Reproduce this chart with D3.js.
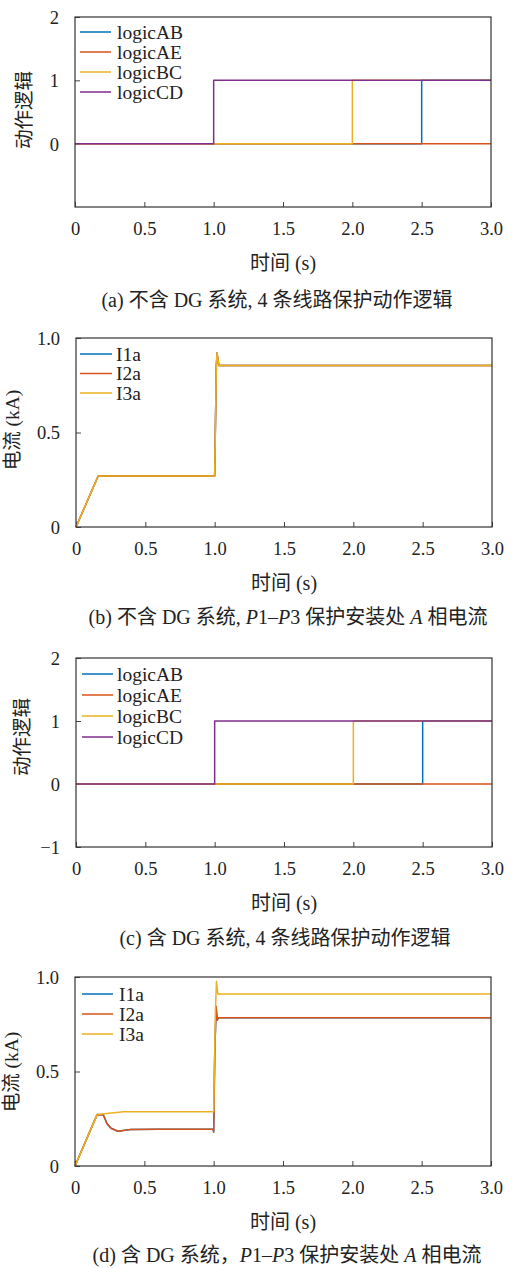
<!DOCTYPE html>
<html>
<head>
<meta charset="utf-8">
<script src="https://cdn.jsdelivr.net/npm/d3@7"></script>
<style>
  body { margin: 0; background: #fff; }
  svg text { font-family: "Liberation Serif", "Noto Sans CJK SC", serif; fill: #222; }
</style>
</head>
<body>
<div id="chart"></div>
<script>
// ---- data ----
var xTicks = [0, 0.5, 1.0, 1.5, 2.0, 2.5, 3.0];

// (a) without DG: trip logic of the 4 lines (step signals)
var logicAB_t = [0, 2.5, 2.5, 3.0];
var logicAB_v = [0, 0, 1, 1];
var logicAE_t = [0, 3.0];
var logicAE_v = [0, 0];
var logicBC_t = [0, 2.0, 2.0, 3.0];
var logicBC_v = [0, 0, 1, 1];
var logicCD_t = [0, 1.0, 1.0, 3.0];
var logicCD_v = [0, 0, 1, 1];

// (c) with DG: same trip logic
var logicABdg_t = [0, 2.5, 2.5, 3.0];
var logicABdg_v = [0, 0, 1, 1];
var logicAEdg_t = [0, 3.0];
var logicAEdg_v = [0, 0];
var logicBCdg_t = [0, 2.0, 2.0, 3.0];
var logicBCdg_v = [0, 0, 1, 1];
var logicCDdg_t = [0, 1.0, 1.0, 3.0];
var logicCDdg_v = [0, 0, 1, 1];

// (b) without DG: phase A current at P1-P3 (all three coincide)
var I1a_t = [0, 0.16, 1.0, 1.012, 1.017, 1.03, 3.0];
var I1a_v = [0, 0.27, 0.27, 0.85, 0.92, 0.855, 0.855];
var I2a_t = [0, 0.16, 1.0, 1.012, 1.017, 1.03, 3.0];
var I2a_v = [0, 0.27, 0.27, 0.85, 0.92, 0.855, 0.855];
var I3a_t = [0, 0.16, 1.0, 1.012, 1.017, 1.03, 3.0];
var I3a_v = [0, 0.27, 0.27, 0.85, 0.92, 0.855, 0.855];

// (d) with DG
var I1aDg_t = [0, 0.16, 0.205, 0.23, 0.26, 0.31, 0.4, 0.6, 0.995, 1.0, 1.008, 1.018, 1.025, 1.035, 3.0];
var I1aDg_v = [0, 0.273, 0.27, 0.225, 0.2, 0.184, 0.193, 0.195, 0.195, 0.18, 0.6, 0.844, 0.772, 0.785, 0.785];
var I2aDg_t = [0, 0.16, 0.205, 0.23, 0.26, 0.31, 0.4, 0.6, 0.995, 1.0, 1.008, 1.018, 1.025, 1.035, 3.0];
var I2aDg_v = [0, 0.273, 0.27, 0.225, 0.2, 0.184, 0.193, 0.195, 0.195, 0.18, 0.6, 0.844, 0.772, 0.785, 0.785];
var I3aDg_t = [0, 0.16, 0.35, 1.0, 1.012, 1.02, 1.03, 3.0];
var I3aDg_v = [0, 0.273, 0.287, 0.287, 0.8, 0.977, 0.91, 0.91];

var colors = ["#0072BD", "#D95319", "#EDB120", "#7E2F8E"];

function zip(t, v) {
  return t.map(function (d, i) { return { t: d, v: v[i] }; });
}

var panels = [
  {
    box: { left: 75, right: 491, top: 17, bottom: 207 },
    yDomain: [-1, 2], yTicks: [0, 1, 2], yLabel: "动作逻辑", yLabelX: 24, yLabelY: 110,
    legend: { x1: 80, x2: 111, tx: 117, y0: 32, dy: 20 },
    caption: "(a) 不含 DG 系统, 4 条线路保护动作逻辑", capY: 300, capX: 277,
    series: [
      { name: "logicAB", data: zip(logicAB_t, logicAB_v) },
      { name: "logicAE", data: zip(logicAE_t, logicAE_v) },
      { name: "logicBC", data: zip(logicBC_t, logicBC_v) },
      { name: "logicCD", data: zip(logicCD_t, logicCD_v) }
    ]
  },
  {
    box: { left: 76, right: 492, top: 338, bottom: 527 },
    yDomain: [0, 1], yTicks: [0, 0.5, 1.0], yLabel: "电流 (kA)", yLabelX: 12, yLabelY: 430,
    legend: { x1: 80, x2: 112, tx: 116, y0: 354, dy: 19.5 },
    caption: "b", capY: 617, capX: 288,
    series: [
      { name: "I1a", data: zip(I1a_t, I1a_v) },
      { name: "I2a", data: zip(I2a_t, I2a_v) },
      { name: "I3a", data: zip(I3a_t, I3a_v) }
    ]
  },
  {
    box: { left: 76, right: 492, top: 658, bottom: 847 },
    yDomain: [-1, 2], yTicks: [-1, 0, 1, 2], yLabel: "动作逻辑", yLabelX: 22, yLabelY: 737,
    legend: { x1: 82, x2: 113, tx: 117, y0: 674, dy: 21 },
    caption: "(c) 含 DG 系统, 4 条线路保护动作逻辑", capY: 938, capX: 285,
    series: [
      { name: "logicAB", data: zip(logicABdg_t, logicABdg_v) },
      { name: "logicAE", data: zip(logicAEdg_t, logicAEdg_v) },
      { name: "logicBC", data: zip(logicBCdg_t, logicBCdg_v) },
      { name: "logicCD", data: zip(logicCDdg_t, logicCDdg_v) }
    ]
  },
  {
    box: { left: 75, right: 491, top: 977, bottom: 1166 },
    yDomain: [0, 1], yTicks: [0, 0.5, 1.0], yLabel: "电流 (kA)", yLabelX: 11, yLabelY: 1072,
    legend: { x1: 82, x2: 113, tx: 119, y0: 994, dy: 20 },
    caption: "d", capY: 1255, capX: 287,
    series: [
      { name: "I1a", data: zip(I1aDg_t, I1aDg_v) },
      { name: "I2a", data: zip(I2aDg_t, I2aDg_v) },
      { name: "I3a", data: zip(I3aDg_t, I3aDg_v) }
    ]
  }
];

var svg = d3.select("#chart").append("svg")
  .attr("width", 512).attr("height", 1268);

panels.forEach(function (p) {
  var b = p.box;
  var g = svg.append("g");

  var x = d3.scaleLinear().domain([0, 3]).range([b.left, b.right]);
  var y = d3.scaleLinear().domain(p.yDomain).range([b.bottom, b.top]);
  var logic = p.yDomain[1] === 2;

  var xAxis = d3.axisBottom(x).tickValues(xTicks).tickSize(-5).tickPadding(15)
    .tickFormat(function (d) { return d === 0 ? "0" : d3.format(".1f")(d); });
  var yAxis = d3.axisLeft(y).tickValues(p.yTicks).tickSize(-5).tickPadding(16)
    .tickFormat(function (d) {
      if (d === 0) return "0";
      if (logic) return d < 0 ? "\u2212" + Math.abs(d) : String(d);
      return d3.format(".1f")(d);
    });

  var gx = g.append("g").attr("transform", "translate(0," + b.bottom + ")").call(xAxis);
  var gy = g.append("g").attr("transform", "translate(" + b.left + ",0)").call(yAxis);
  [gx, gy].forEach(function (a) {
    a.select(".domain").remove();
    a.selectAll(".tick line").attr("stroke", "#444").attr("stroke-width", 1);
    a.selectAll(".tick text").style("font-size", "18.5px").attr("fill", "#222");
  });
  gy.selectAll(".tick text").attr("dy", "0.35em");

  // lines
  var line = d3.line().x(function (d) { return x(d.t); }).y(function (d) { return y(d.v); });
  p.series.forEach(function (s, i) {
    g.append("path").datum(s.data)
      .attr("d", line)
      .attr("fill", "none")
      .attr("stroke", colors[i])
      .attr("stroke-width", 1.5)
      .attr("stroke-linejoin", "round");
  });

  // frame
  g.append("rect")
    .attr("x", b.left).attr("y", b.top)
    .attr("width", b.right - b.left).attr("height", b.bottom - b.top)
    .attr("fill", "none").attr("stroke", "#333").attr("stroke-width", 1.2);

  // legend
  var L = p.legend;
  p.series.forEach(function (s, i) {
    var ly = L.y0 + i * L.dy;
    g.append("line").attr("x1", L.x1).attr("x2", L.x2).attr("y1", ly).attr("y2", ly)
      .attr("stroke", colors[i]).attr("stroke-width", 1.5);
    g.append("text").attr("x", L.tx).attr("y", ly).attr("dy", "0.35em")
      .style("font-size", "19.5px").text(s.name);
  });

  // axis titles
  g.append("text")
    .attr("x", (b.left + b.right) / 2).attr("y", b.bottom + 56).attr("dy", "0.35em")
    .attr("text-anchor", "middle").style("font-size", "20px").text("时间 (s)");
  g.append("text")
    .attr("transform", "translate(" + p.yLabelX + "," + p.yLabelY + ") rotate(-90)")
    .attr("dy", "0.35em")
    .attr("text-anchor", "middle").style("font-size", "19.5px").text(p.yLabel);

  // caption
  var cap = g.append("text").attr("x", p.capX).attr("y", p.capY).attr("dy", "0.35em")
    .attr("text-anchor", "middle").style("font-size", "20px");
  if (p.caption === "b" || p.caption === "d") {
    var head = p.caption === "b" ? "(b) 不含 DG 系统, " : "(d) 含 DG 系统，";
    cap.append("tspan").text(head);
    cap.append("tspan").style("font-style", "italic").text("P");
    cap.append("tspan").text("1\u2013");
    cap.append("tspan").style("font-style", "italic").text("P");
    cap.append("tspan").text("3 保护安装处 ");
    cap.append("tspan").style("font-style", "italic").text("A");
    cap.append("tspan").text(" 相电流");
  } else {
    cap.text(p.caption);
  }
});
</script>
</body>
</html>
